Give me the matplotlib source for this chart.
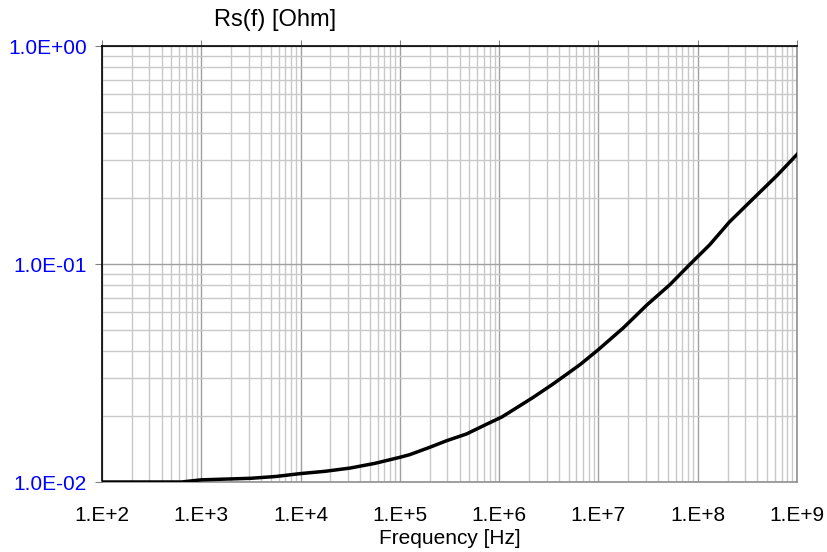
import numpy as np
import matplotlib.pyplot as plt
from matplotlib.ticker import LogLocator, FuncFormatter, NullFormatter

plt.rcParams['font.family'] = ['Liberation Sans', 'DejaVu Sans']

# datos (exponente de la frecuencia y Rs en ohm)
log_f = [2.0, 2.5, 2.8, 3.0, 3.5, 3.75, 4.0, 4.25, 4.5, 4.75, 5.0, 5.1, 5.3,
         5.47, 5.67, 5.84, 6.03, 6.18, 6.34, 6.54, 6.68, 6.82, 7.0, 7.25,
         7.49, 7.72, 7.92, 8.12, 8.32, 8.56, 8.8, 9.0]
rs = [0.0100, 0.0100, 0.0100, 0.01023, 0.0104, 0.0106, 0.01093, 0.0112,
      0.01159, 0.01218, 0.01298, 0.01335, 0.01442, 0.01546, 0.0166, 0.0181,
      0.0199, 0.02196, 0.0244, 0.0281, 0.0312, 0.0347, 0.0405, 0.0509,
      0.0650, 0.0804, 0.0995, 0.1224, 0.156, 0.1996, 0.255, 0.318]
freq = [10 ** e for e in log_f]

fig = plt.figure(figsize=(8.28, 5.52), dpi=100)
ax = fig.add_axes([102/828, 1 - 482/552, 695/828, 436/552])

ax.plot(freq, rs, color='black', lw=2.5, zorder=3)
ax.set_xscale('log')
ax.set_yscale('log')
ax.set_xlim(1e2, 1e9)
ax.set_ylim(1e-2, 1e0)

ax.xaxis.set_major_locator(LogLocator(base=10, numticks=20))
ax.xaxis.set_minor_locator(LogLocator(base=10, subs=np.arange(2, 10), numticks=20))
ax.yaxis.set_major_locator(LogLocator(base=10, numticks=20))
ax.yaxis.set_minor_locator(LogLocator(base=10, subs=np.arange(2, 10), numticks=20))
ax.xaxis.set_minor_formatter(NullFormatter())
ax.yaxis.set_minor_formatter(NullFormatter())
ax.xaxis.set_major_formatter(FuncFormatter(lambda v, p: '1.E+%d' % round(np.log10(v))))
ax.yaxis.set_major_formatter(FuncFormatter(lambda v, p: '1.0E%+03d' % round(np.log10(v))))

ax.grid(which='major', color='#a0a0a0', lw=1.0)
ax.grid(which='minor', color='#c8c8c8', lw=1.0)

ax.tick_params(axis='x', which='major', top=True, bottom=False, direction='out',
               length=4, color='#808080', labelsize=15, pad=13)
ax.tick_params(axis='y', which='major', left=True, direction='out', length=5,
               color='#808080', labelsize=15, labelcolor='#0000ff', pad=6)
ax.tick_params(which='minor', length=0)

for s in ['left', 'top']:
    ax.spines[s].set_color('black')
    ax.spines[s].set_linewidth(1.2)
for s in ['right', 'bottom']:
    ax.spines[s].set_color('#909090')
    ax.spines[s].set_linewidth(1.2)

ax.set_xlabel('Frequency [Hz]', fontsize=15, labelpad=3)
fig.text(275/828, 1 - 20/552, 'Rs(f) [Ohm]', fontsize=17, ha='center', va='center')

fig.savefig('out.png', dpi=100)
